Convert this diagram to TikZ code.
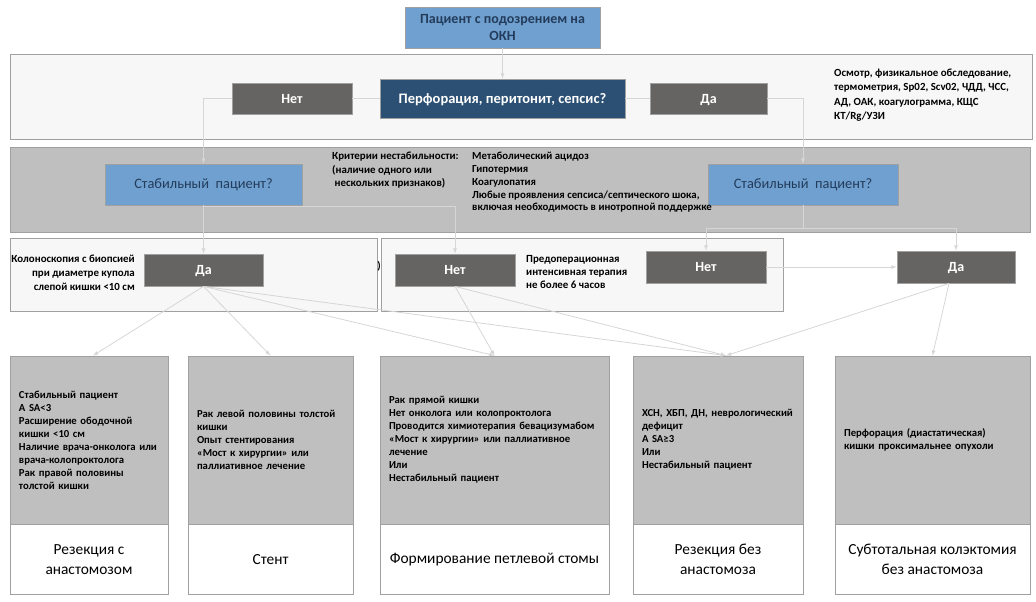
\documentclass[tikz,border=0pt]{standalone}
\usepackage{fontspec}
\setmainfont{Carlito}
\usepackage{tikz}
\usetikzlibrary{calc, positioning}

\definecolor{svsin}{RGB}{111,160,207}
\definecolor{tsin}{RGB}{44,80,116}
\definecolor{tekstsin}{RGB}{36,60,92}
\definecolor{tser}{RGB}{102,100,98}
\definecolor{svfon}{RGB}{247,247,247}
\definecolor{serfon}{RGB}{191,191,191}
\definecolor{kontur}{RGB}{160,160,160}
\definecolor{liniya}{RGB}{214,214,214}

\begin{document}
\begin{tikzpicture}[>=latex, x=1pt, y=-1pt,
    ramka/.style={draw=kontur, line width=0.8pt},
    sinblok/.style={ramka, fill=svsin, text=tekstsin, align=center, inner sep=0pt},
    temnblok/.style={ramka, fill=tser, text=white, minimum height=32pt, inner sep=0pt,
        text height=9pt, text depth=0pt, font=\fontsize{14}{16}\selectfont\bfseries},
    melk/.style={inner sep=0pt, text=black, font=\fontsize{10.9}{13.3}\selectfont\bfseries},
    serblok/.style={ramka, fill=serfon, minimum height=168pt, inner xsep=9pt, align=left,
        font=\fontsize{10.7}{13}\selectfont\bfseries},
    itog/.style={ramka, fill=white, minimum height=70pt, inner sep=0pt, align=center,
        font=\fontsize{15.4}{20}\selectfont},
    svyaz/.style={draw=liniya, line width=0.8pt}]
    \useasboundingbox (0,0) rectangle (1036,602);

    % Панели
    \draw[ramka, fill=svfon] (10,54) rectangle (1032,139);
    \draw[ramka, fill=serfon] (10,147) rectangle (1030,232);
    \draw[ramka, fill=svfon] (10,238) rectangle (377,311);
    \draw[ramka, fill=svfon] (381,238) rectangle (783,311);

    % Первый уровень
    \node[sinblok, minimum width=195pt, minimum height=41pt,
        font=\fontsize{14}{17}\selectfont\bfseries] (start) at (502.5,27.5)
        {Пациент с подозрением на\\ОКН};
    \node[temnblok, minimum width=120pt, minimum height=31pt] (net1) at (292,98.5) {Нет};
    \node[temnblok, fill=tsin, minimum width=245pt, minimum height=39pt,
        font=\fontsize{14.5}{16}\selectfont\bfseries] (perf) at (502.5,98.5)
        {Перфорация, перитонит, сепсис?};
    \node[temnblok, minimum width=117pt, minimum height=31pt] (da1) at (708.5,98.5) {Да};
    \node[melk, anchor=north west, align=left,
        font=\fontsize{10.9}{14.2}\selectfont\bfseries] (osmotr) at (834,69)
        {Осмотр, физикальное обследование,\\термометрия, Sp02, Scv02, ЧДД, ЧСС,\\АД, ОАК, коагулограмма, КЩС\\КТ/Rg/УЗИ};

    % Второй уровень
    \node[sinblok, minimum width=197pt, minimum height=41pt,
        font=\fontsize{14.4}{16}\selectfont] (stabL) at (203.5,184.5) {Стабильный~ пациент?};
    \node[sinblok, minimum width=190pt, minimum height=41pt,
        font=\fontsize{14.4}{16}\selectfont] (stabR) at (803,184.5) {Стабильный~ пациент?};
    \node[melk, anchor=north west, align=left] (krit) at (332,152)
        {Критерии нестабильности:\\(наличие одного или\\\ нескольких признаков)};
    \node[melk, anchor=north west, align=left,
        font=\fontsize{10.8}{12.8}\selectfont\bfseries] (priznaki) at (472,152)
        {Метаболический ацидоз\\Гипотермия\\Коагулопатия\\Любые проявления сепсиса/септического шока,\\включая необходимость в инотропной поддержке};

    % Третий уровень
    \node[temnblok, minimum width=119pt] (da2) at (203.5,270) {Да};
    \node[temnblok, minimum width=120pt] (net2) at (455,270) {Нет};
    \node[temnblok, minimum width=120pt] (net3) at (706,267) {Нет};
    \node[temnblok, minimum width=118pt] (da3) at (956,267) {Да};
    \node[melk, anchor=north east, align=right,
        font=\fontsize{10.9}{13.7}\selectfont\bfseries] (kolono) at (135,255)
        {Колоноскопия с биопсией\\при диаметре купола\\слепой кишки <10 см};
    \node[melk, anchor=north west, align=left] (predop) at (526,255)
        {Предоперационная\\интенсивная терапия\\не более 6 часов};
    \node[melk] (skobka) at (379,266) {)};

    % Итоговые блоки
    \node[serblok, minimum width=158pt, text width=140pt] (b1) at (89,440)
        {Стабильный пациент\\A SA<3\\Расширение ободочной\\кишки <10 см\\Наличие врача-онколога или\\врача-колопроктолога\\Рак правой половины\\толстой кишки};
    \node[serblok, minimum width=165pt, text width=147pt] (b2) at (270.5,440)
        {Рак левой половины толстой\\кишки\\Опыт стентирования\\«Мост к хирургии» или\\паллиативное лечение};
    \node[serblok, minimum width=229pt, text width=211pt] (b3) at (494.5,440)
        {Рак прямой кишки\\Нет онколога или колопроктолога\\Проводится химиотерапия бевацизумабом\\«Мост к хирургии» или паллиативное\\лечение\\Или\\Нестабильный пациент};
    \node[serblok, minimum width=170pt, text width=152pt] (b4) at (718,440)
        {ХСН, ХБП, ДН, неврологический\\дефицит\\A SA≥3\\Или\\Нестабильный пациент};
    \node[serblok, minimum width=195pt, text width=177pt] (b5) at (932.5,440)
        {Перфорация (диастатическая)\\кишки проксимальнее опухоли};

    \node[itog, minimum width=158pt, anchor=north] (r1) at (b1.south) {Резекция с\\анастомозом};
    \node[itog, minimum width=165pt, anchor=north] (r2) at (b2.south) {Стент};
    \node[itog, minimum width=229pt, anchor=north] (r3) at (b3.south) {Формирование петлевой стомы};
    \node[itog, minimum width=170pt, anchor=north] (r4) at (b4.south) {Резекция без\\анастомоза};
    \node[itog, minimum width=195pt, anchor=north] (r5) at (b5.south) {Субтотальная колэктомия\\без анастомоза};

    % Связи
    \draw[svyaz, ->] (start) -- (perf);
    \draw[svyaz] (perf) -- (net1);
    \draw[svyaz] (perf) -- (da1);
    \draw[svyaz, ->] (net1.west) -| (stabL.north);
    \draw[svyaz, ->] (da1.east) -| (stabR.north);
    \draw[svyaz, ->] (stabL) -- (da2);
    \draw[svyaz, ->] ([yshift=-1pt]stabL.south) -| (net2.north);
    \coordinate (razv) at ($(stabR.south)+(0,23)$);
    \draw[svyaz] (stabR.south) -- (razv);
    \draw[svyaz, ->] (razv) -| (net3.north);
    \draw[svyaz, ->] (razv) -| (da3.north);
    \draw[svyaz, ->] (net3) -- (da3);
    \draw[svyaz, ->] (da2.south) -- ([xshift=4pt]b1.north);
    \draw[svyaz, ->] (da2.south) -- (b2.north);
    \draw[svyaz, ->] (da2.south) -- (b3.north);
    \draw[svyaz, ->] (da2.south) -- ([xshift=8pt]b4.north);
    \draw[svyaz, ->] (net2.south) -- (b3.north);
    \draw[svyaz, ->] (net2.south) -- ([xshift=8pt]b4.north);
    \draw[svyaz, ->] ([xshift=-7pt]da3.south) -- ([xshift=8pt]b4.north);
    \draw[svyaz, ->] ([xshift=-7pt]da3.south) -- (b5.north);
\end{tikzpicture}
\end{document}
